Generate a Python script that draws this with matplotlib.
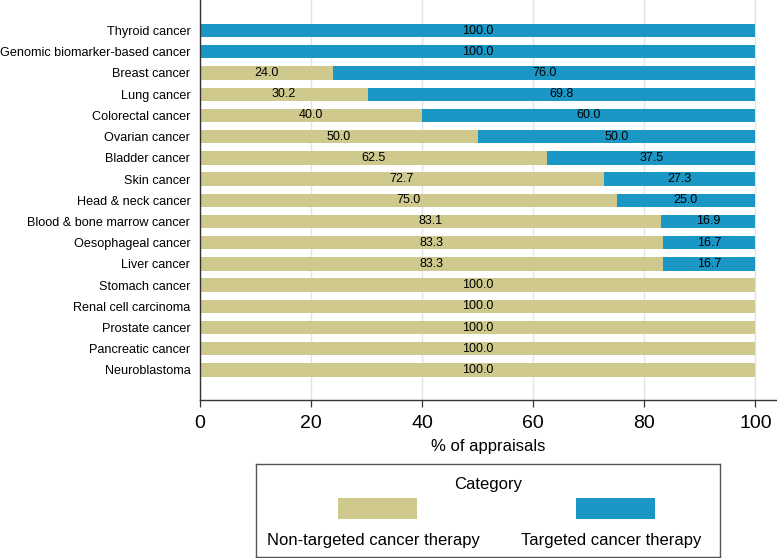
import matplotlib
matplotlib.use("Agg")
import matplotlib.pyplot as plt
from matplotlib.patches import Rectangle
import numpy as np

plt.rcParams['font.family'] = ['Liberation Sans', 'DejaVu Sans']

categories = [
    "Thyroid cancer", "Genomic biomarker-based cancer", "Breast cancer", "Lung cancer",
    "Colorectal cancer", "Ovarian cancer", "Bladder cancer", "Skin cancer",
    "Head & neck cancer", "Blood & bone marrow cancer", "Oesophageal cancer",
    "Liver cancer", "Stomach cancer", "Renal cell carcinoma", "Prostate cancer",
    "Pancreatic cancer", "Neuroblastoma",
]
non_targeted = [0.0, 0.0, 24.0, 30.2, 40.0, 50.0, 62.5, 72.7, 75.0, 83.1, 83.3, 83.3,
                100.0, 100.0, 100.0, 100.0, 100.0]
targeted = [100.0, 100.0, 76.0, 69.8, 60.0, 50.0, 37.5, 27.3, 25.0, 16.9, 16.7, 16.7,
            0.0, 0.0, 0.0, 0.0, 0.0]
series_names = ["Non-targeted cancer therapy", "Targeted cancer therapy"]
xticks = [0, 20, 40, 60, 80, 100]

c_non = "#CFC98E"
c_tar = "#1A97C5"

W, H = 777, 558
fig = plt.figure(figsize=(W / 100, H / 100), dpi=100)
ax = fig.add_axes([200 / W, 1 - 400 / H, (777 - 200) / W, 400 / H])

n = len(categories)
y = np.arange(n)[::-1]  # top category at highest position
nt = np.array(non_targeted)
tg = np.array(targeted)

ax.set_axisbelow(True)
ax.grid(axis='x', color='#e4e4e4', linewidth=1.0)
b1 = ax.barh(y, nt, height=0.63, color=c_non, edgecolor='none')
b2 = ax.barh(y, tg, left=nt, height=0.63, color=c_tar, edgecolor='none')

for yi, a, b in zip(y, nt, tg):
    if a > 0:
        ax.text(a / 2, yi, f"{a:.1f}", ha='center', va='center', fontsize=9, color='black')
    if b > 0:
        ax.text(a + b / 2, yi, f"{b:.1f}", ha='center', va='center', fontsize=9, color='black')

ax.set_yticks(y)
ax.set_yticklabels(categories, fontsize=9.1)
ax.tick_params(axis='y', length=0, pad=7)
ax.set_xticks(xticks)
ax.set_xticklabels([str(t) for t in xticks], fontsize=14)
ax.tick_params(axis='x', length=5, width=0.9, color='#333333', pad=6)
ax.set_xlim(0, 103.9)
ax.set_ylim(-1.415, 17.44)
ax.set_xlabel("% of appraisals", fontsize=12, labelpad=5)

for s in ['top', 'right']:
    ax.spines[s].set_visible(False)
for s in ['left', 'bottom']:
    ax.spines[s].set_color('#333333')
    ax.spines[s].set_linewidth(1.0)

# Legend (Stata-style: keys above labels)
lx0, lx1, ly0, ly1 = 256, 720, 464, 557
lw_, lh_ = lx1 - lx0, ly1 - ly0
lax = fig.add_axes([lx0 / W, 1 - ly1 / H, lw_ / W, lh_ / H])
lax.set_xlim(0, lw_)
lax.set_ylim(0, lh_)
lax.set_xticks([])
lax.set_yticks([])
for s in lax.spines.values():
    s.set_color('#555555')
    s.set_linewidth(1.0)
lax.text(lw_ / 2, lh_ - 20, "Category", ha='center', va='center', fontsize=12)
key_centers = [377 - lx0, 615.5 - lx0]
for kc, col, name in zip(key_centers, [c_non, c_tar], series_names):
    lax.add_patch(Rectangle((kc - 39.5, lh_ - 54.7), 79, 21, facecolor=col, edgecolor='none'))
    lax.text(kc - 4, lh_ - 77, name, ha='center', va='center', fontsize=12)

fig.savefig("out.png", dpi=100)
